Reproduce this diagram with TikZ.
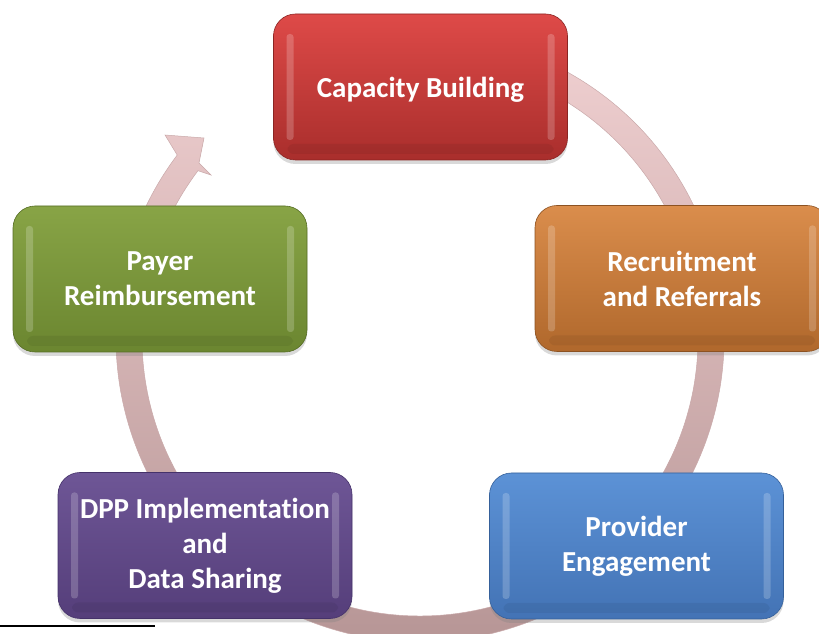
\documentclass[tikz,border=0pt]{standalone}
\usepackage{fontspec}
\setmainfont[Ligatures=NoCommon]{Carlito}
\usetikzlibrary{shadows}

% box colours: top, bottom, edge
\definecolor{redTop}{HTML}{DE4A48}\definecolor{redBot}{HTML}{A92E2C}\definecolor{redEdge}{HTML}{8A2523}
\definecolor{orTop}{HTML}{DA8D4C}\definecolor{orBot}{HTML}{B0682C}\definecolor{orEdge}{HTML}{8C5222}
\definecolor{blTop}{HTML}{5C92D6}\definecolor{blBot}{HTML}{4373B5}\definecolor{blEdge}{HTML}{35609A}
\definecolor{puTop}{HTML}{6E5696}\definecolor{puBot}{HTML}{553E7A}\definecolor{puEdge}{HTML}{45326A}
\definecolor{grTop}{HTML}{88A446}\definecolor{grBot}{HTML}{6B8630}\definecolor{grEdge}{HTML}{566D25}
% ring colours
\definecolor{ringTop}{HTML}{F4D4D5}
\definecolor{ringMid}{HTML}{DFC0C2}
\definecolor{ringBot}{HTML}{B39292}
\definecolor{ringEdge}{HTML}{C9A9AA}

\begin{document}
\begin{tikzpicture}[x=1pt,y=1pt,
  stage/.style={
    rectangle, rounded corners=22pt,
    minimum width=294pt, minimum height=146pt, inner sep=0pt,
    align=center, text=white,
    font=\bfseries\fontsize{29}{35}\selectfont,
    line width=0.6pt,
    drop shadow={shadow xshift=0pt, shadow yshift=-4pt, opacity=0.3},
    path picture={
      % bevel highlights along the left and right inner edges
      \fill[white, opacity=0.2, rounded corners=3pt]
        ([xshift=13pt,yshift=-20pt]path picture bounding box.north west)
        rectangle ([xshift=20pt,yshift=20pt]path picture bounding box.south west);
      \fill[white, opacity=0.2, rounded corners=3pt]
        ([xshift=-13pt,yshift=-20pt]path picture bounding box.north east)
        rectangle ([xshift=-20pt,yshift=20pt]path picture bounding box.south east);
      % darker band along the bottom inner edge
      \fill[black, opacity=0.06, rounded corners=6pt]
        ([xshift=14pt,yshift=16pt]path picture bounding box.south west)
        rectangle ([xshift=-14pt,yshift=6pt]path picture bounding box.south east);
    }
  },
  ring/.style={top color=ringTop, middle color=ringMid, bottom color=ringBot,
    draw=ringEdge, line width=0.5pt}
]
\useasboundingbox (0,0) rectangle (819,634);
\clip (0,0) rectangle (819,634);

% cycle ring with arrowhead, centred at (420,296)
\coordinate (ctr) at (420,296);
\coordinate (barbOut) at (165,499);
\coordinate (tip) at (204,496);
\coordinate (notch) at (199,471);
\coordinate (barbIn) at (211,459);
\shadedraw[ring]
  ([shift={(ctr)}]110:304) arc[start angle=110, end angle=-217, radius=304]
  -- (barbOut) -- (tip) -- (notch) -- (barbIn)
  -- ([shift={(ctr)}]-217:278) arc[start angle=-217, end angle=110, radius=278]
  -- cycle;

% stages
\node[stage, top color=redTop, bottom color=redBot, draw=redEdge] (cap) at (420.5,547) {\raisebox{-3pt}[\height][\depth]{Capacity Building}};
\node[stage, top color=orTop, bottom color=orBot, draw=orEdge] (rec) at (682,355.5) {Recruitment\\and Referrals};
\node[stage, top color=blTop, bottom color=blBot, draw=blEdge] (prov) at (636.5,88) {Provider\\Engagement};
\node[stage, top color=puTop, bottom color=puBot, draw=puEdge] (dpp) at (205,88.5) {DPP Implementation\\and\\Data Sharing};
\node[stage, top color=grTop, bottom color=grBot, draw=grEdge] (pay) at (160,355) {Payer\\Reimbursement};

% short rule at the lower left
\coordinate (ruleA) at (0,8);
\coordinate (ruleB) at (155,8);
\draw[line width=1.4pt] (ruleA) -- (ruleB);
\end{tikzpicture}
\end{document}
